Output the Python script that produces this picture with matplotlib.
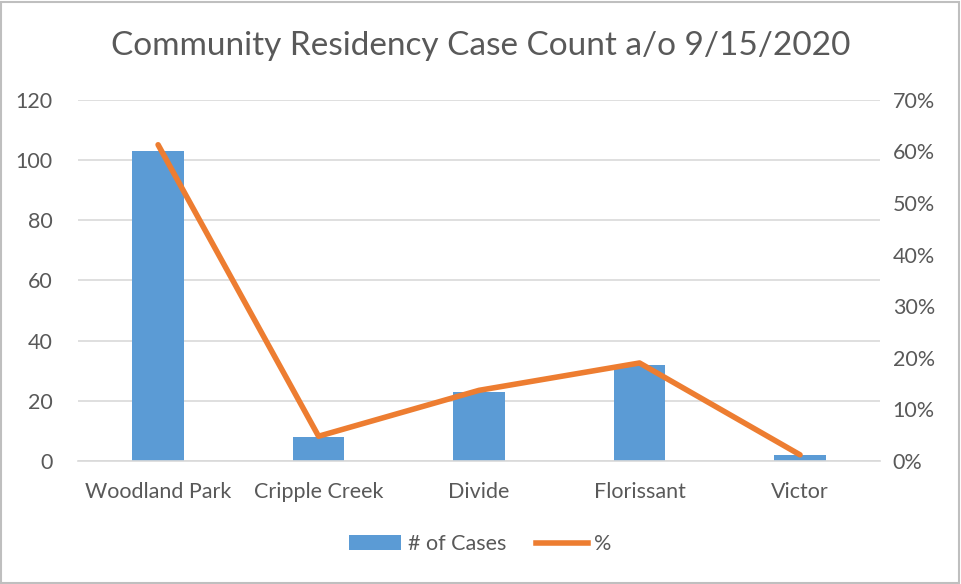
import matplotlib

matplotlib.use("Agg")

import matplotlib.pyplot as plt
import numpy as np
from matplotlib.lines import Line2D
from matplotlib.patches import Patch, Rectangle
from matplotlib.ticker import FuncFormatter

towns = ["Woodland Park", "Cripple Creek", "Divide", "Florissant", "Victor"]
cases = [103, 8, 23, 32, 2]
pct = [61.3, 4.8, 13.7, 19.0, 1.2]

BAR_COLOR = "#5B9BD5"
LINE_COLOR = "#ED7D31"
TEXT_COLOR = "#595959"
GRID_COLOR = "#D9D9D9"

plt.rcParams["font.family"] = ["Lato", "DejaVu Sans"]

fig = plt.figure(figsize=(9.61, 5.84), dpi=100)
ax = fig.add_axes([0.081, 0.2106, 0.835, 0.6184])
x = np.arange(len(towns))

ax.bar(x, cases, width=0.32, color=BAR_COLOR, zorder=2)
ax.set_ylim(0, 120)
ax.set_yticks(range(0, 121, 20))
ax.set_xlim(-0.5, len(towns) - 0.5)
ax.set_xticks(x)
ax.set_xticklabels(towns)
ax.grid(axis="y", color=GRID_COLOR, linewidth=1.2, zorder=0)
for side in ["top", "right", "left"]:
    ax.spines[side].set_visible(False)
ax.spines["bottom"].set_color(GRID_COLOR)
ax.spines["bottom"].set_linewidth(1.2)
ax.tick_params(length=0, colors=TEXT_COLOR, labelsize=15.5)
ax.tick_params(axis="y", pad=18)
ax.tick_params(axis="x", pad=15)

ax2 = ax.twinx()
ax2.plot(x, pct, color=LINE_COLOR, linewidth=4, solid_capstyle="round", zorder=3)
ax2.set_ylim(0, 70)
ax2.set_yticks(range(0, 71, 10))
ax2.yaxis.set_major_formatter(FuncFormatter(lambda v, _: f"{v:.0f}%"))
for side in ["top", "right", "left", "bottom"]:
    ax2.spines[side].set_visible(False)
ax2.tick_params(length=0, colors=TEXT_COLOR, labelsize=15.5, pad=9)

fig.text(0.5, 0.922, "Community Residency Case Count a/o 9/15/2020",
         ha="center", va="center", fontsize=24, color=TEXT_COLOR)

handles = [
    Patch(facecolor=BAR_COLOR, label="# of Cases"),
    Line2D([0], [0], color=LINE_COLOR, linewidth=4, label="%"),
]
fig.legend(handles=handles, loc="center", bbox_to_anchor=(0.5, 0.068), ncol=2,
           frameon=False, fontsize=15.5, labelcolor=TEXT_COLOR, handlelength=2.4,
           columnspacing=1.4, handletextpad=0.3)

fig.patches.append(Rectangle((0.001, 0.002), 0.997, 0.995, transform=fig.transFigure,
                             fill=False, edgecolor="#BFBFBF", linewidth=1.5))

fig.savefig("out.png", dpi=100)
